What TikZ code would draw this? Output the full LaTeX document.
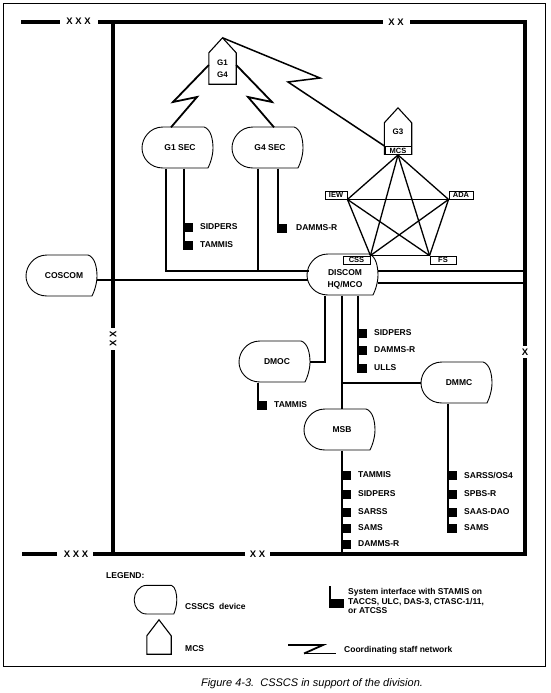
\documentclass[tikz,border=0pt]{standalone}
\usepackage{fontspec}
\setmainfont{Liberation Sans}
\usetikzlibrary{calc}
\newcommand\devoutline[3]{%
 \draw[devline, shift={(#1.center)}, xscale=#2, yscale=#3]
 (-17,-21) -- (24,-21) .. controls (31,-19) and (33,-8) .. (33,0)
 .. controls (33,8) and (30,16) .. (28,20) -- (-17,20)
 .. controls (-30,20) and (-38,10) .. (-38,0)
 .. controls (-38,-10) and (-30,-21) .. (-17,-21) -- cycle;}
\newcommand\houseoutline[2]{%
 \draw[houseline] (#1.south west) -- ([yshift=-#2pt]#1.north west) -- (#1.north)
 -- ([yshift=-#2pt]#1.north east) -- (#1.south east) -- cycle;}
\newcommand\ifmk[4]{% name, x, y, text
 \fill ($(#2,#3)+(-1,-4.5)$) rectangle ($(#2,#3)+(9,4.5)$);
 \node[lbl] (#1) at ($(#2,#3)+(16,0)$) {#4};}
\begin{document}
\begin{tikzpicture}[x=1pt,y=-1pt,
 bus/.style={line width=3.8pt, line join=miter},
 conn/.style={line width=1.4pt},
 iface/.style={line width=2pt},
 net/.style={line width=1.8pt, line join=miter},
 star/.style={line width=1.3pt},
 devline/.style={line width=0.9pt},
 houseline/.style={line width=1.1pt, line join=miter},
 devn/.style={inner sep=0pt, minimum width=66pt, minimum height=41pt, font=\bfseries\fontsize{8.5}{10}\selectfont, align=center},
 dtxt/.style={inner sep=0pt, font=\bfseries\fontsize{8.5}{12}\selectfont, align=center},
 housen/.style={inner sep=0pt, minimum width=27pt, minimum height=46pt},
 htxt/.style={inner sep=0pt, font=\bfseries\fontsize{8}{12}\selectfont, align=center},
 tbox/.style={draw, fill=white, line width=0.9pt, inner sep=0pt, minimum height=8pt, font=\bfseries\fontsize{7.5}{8}\selectfont},
 lbl/.style={anchor=west, inner sep=0pt, font=\bfseries\fontsize{8.5}{10}\selectfont},
 lgt/.style={anchor=west, inner sep=0pt, font=\bfseries\fontsize{8.5}{9.5}\selectfont, align=left},
 xmk/.style={inner sep=0pt, font=\bfseries\fontsize{9.5}{10}\selectfont}]
\useasboundingbox (0,0) rectangle (550,693);
\fill[white] (0,0) rectangle (550,693);
% frame
\draw[line width=0.8pt] (3,3) rectangle (545,666);
% boundary buses
\draw[bus] (21,22) -- (60,22);
\node[xmk] (x1) at (78.5,21.5) {X X X};
\draw[bus] (98,22) -- (383,22);
\node[xmk] (x2) at (396,22) {X X};
\draw[bus] (410,22) -- (525,22) -- (525,346);
\node[xmk] (x3) at (525,352) {X};
\draw[bus] (525,358) -- (525,554) -- (270,554);
\node[xmk] (x4) at (257.5,554) {X X};
\draw[bus] (245,554) -- (93,554);
\node[xmk] (x5) at (76,554) {X X X};
\draw[bus] (57,554) -- (22,554);
\draw[bus] (113,20.1) -- (113,328);
\node[xmk, rotate=90] (x6) at (113,338.5) {X X};
\draw[bus] (113,350) -- (113,554);
% devices
\node[devn] (g1sec) at (180,148) {G1 SEC};
\node[devn] (g4sec) at (270,148) {G4 SEC};
\node[devn] (coscom) at (64,276) {COSCOM};
\node[devn] (discom) at (345,275) {};
\node[dtxt] (discomtxt) at (345,279) {DISCOM\\HQ/MCO};
\node[devn] (dmoc) at (277,362) {DMOC};
\node[devn] (msb) at (342,430) {MSB};
\node[devn] (dmmc) at (459,383) {DMMC};
\foreach \n in {g1sec,g4sec,coscom,discom,dmoc,msb,dmmc} {\devoutline{\n}{1}{1}}
% houses
\node[housen] (g1g4) at (222.5,61) {};
\houseoutline{g1g4}{15}
\node[htxt] (g1g4txt) at (222.5,69) {G1\\G4};
\node[housen] (g3) at (398,131) {};
\houseoutline{g3}{15}
\node[htxt] (g3txt) at (398,132) {G3};
\node[tbox, minimum width=26pt] (mcs) at (398,150.5) {MCS};
% star
\node[tbox, minimum width=22pt] (iew) at (336,195) {IEW};
\node[tbox, minimum width=24pt] (ada) at (461,195) {ADA};
\node[tbox, minimum width=27pt] (css) at (356.5,260) {CSS};
\node[tbox, minimum width=26pt] (fs) at (443,260) {FS};
\draw[star] (mcs.south) -- (iew.south east);
\draw[star] (mcs.south) -- (ada.south west);
\draw[star] (mcs.south) -- (css.north east);
\draw[star] (mcs.south) -- (fs.north west);
\draw[star] (iew.south east) -- (ada.south west);
\draw[star] (iew.south east) -- (css.north east);
\draw[star] (iew.south east) -- (fs.north west);
\draw[star] (ada.south west) -- (css.north east);
\draw[star] (ada.south west) -- (fs.north west);
\draw[star] (css.north east) -- (fs.north west);
% coordinating staff network
\draw[net] ([yshift=-4pt]g1g4.west) -- (173,102) -- (197,97) -- ([xshift=-9pt]g1sec.north);
\draw[net] ([yshift=-4pt]g1g4.east) -- (272,102) -- (248,97) -- ([xshift=4pt]g4sec.north);
\draw[net, line width=1.5pt] (g1g4.north) -- (320,78) -- (288,82) -- (mcs.north west);
% connections
\coordinate (busL) at (309,271);
\coordinate (cosR) at (308,280);
\coordinate (rb1) at (525,271);
\coordinate (rb2) at (525,283);
\coordinate (bb1) at (342,554);
\draw[conn] ([xshift=-14pt]g1sec.south) |- (busL);
\draw[conn] ([xshift=-12pt]g4sec.south) -- ([xshift=-12pt]g4sec.south |- busL);
\draw[conn] ([yshift=-4pt]coscom.east) -- (cosR);
\draw[conn] ([xshift=33pt,yshift=4pt]discom.center) -- (rb1);
\draw[conn] ([xshift=32.5pt,yshift=-8pt]discom.center) -- (rb2);
\draw[iface] ([xshift=-20pt]discom.south) |- (dmoc.east);
\draw[conn] ([xshift=-3pt]discom.south) -- (msb.north);
\draw[conn] (msb.north |- dmmc.west) -- ([xshift=-5pt]dmmc.west);
\draw[conn] (msb.south) -- (bb1);
% interfaces
\draw[iface] ([xshift=4pt]g1sec.south) -- ([xshift=4pt]g1sec.south |- 0,249);
\ifmk{g1a}{184}{227}{SIDPERS}
\ifmk{g1b}{184}{245}{TAMMIS}
\draw[iface] ([xshift=8pt]g4sec.south) -- ([xshift=8pt]g4sec.south |- 0,232);
\fill (277,223.5) rectangle (287,232.5);
\node[lbl] (g4a) at (296,228) {DAMMS-R};
\draw[iface] ([xshift=13pt]discom.south) -- ([xshift=13pt]discom.south |- 0,372);
\ifmk{da}{358}{333}{SIDPERS}
\ifmk{db}{358}{350}{DAMMS-R}
\ifmk{dc}{358}{368}{ULLS}
\draw[iface] ([xshift=-19pt]dmoc.south) -- ([xshift=-19pt]dmoc.south |- 0,409);
\ifmk{dma}{258}{405}{TAMMIS}
\ifmk{ma}{342}{475}{TAMMIS}
\ifmk{mb}{342}{494}{SIDPERS}
\ifmk{mc}{342}{512}{SARSS}
\ifmk{md}{342}{528}{SAMS}
\ifmk{me}{342}{544}{DAMMS-R}
\draw[iface] ([xshift=-11pt]dmmc.south) -- ([xshift=-11pt]dmmc.south |- 0,532);
\ifmk{mma}{448}{475}{SARSS/OS4}
\ifmk{mmb}{448}{494}{SPBS-R}
\ifmk{mmc}{448}{512}{SAAS-DAO}
\ifmk{mmd}{448}{528}{SAMS}
% legend
\node[lgt] (legend) at (106,576) {LEGEND:};
\node[devn, minimum width=40pt, minimum height=29pt] (legdev) at (157,600) {};
\devoutline{legdev}{0.6}{0.7}
\node[lgt] (legdevt) at (185,606) {CSSCS\ \ device};
\node[housen, minimum width=24pt, minimum height=34pt] (leghouse) at (159,637) {};
\houseoutline{leghouse}{16}
\node[lgt] (legmcs) at (185,649) {MCS};
\coordinate (lsi) at (330,586);
\draw[iface] (lsi) -- (330,608);
\fill (329,599) rectangle (344,608);
\node[lgt] (legsi) at (348,601) {System interface with STAMIS on\\TACCS, ULC, DAS-3, CTASC-1/11,\\or ATCSS};
\coordinate (lz) at (288,645);
\draw[net] (lz) -- (323,645) -- (304,653.5);
\draw[line width=1.2pt] (304,653.5) -- (336,653.5);
\node[lgt] (legnet) at (344,650) {Coordinating staff network};
% caption
\node[inner sep=0pt, font=\itshape\fontsize{11}{13}\selectfont] (cap) at (312,684) {Figure 4-3.\ \ CSSCS in support of the division.};
\end{tikzpicture}
\end{document}
